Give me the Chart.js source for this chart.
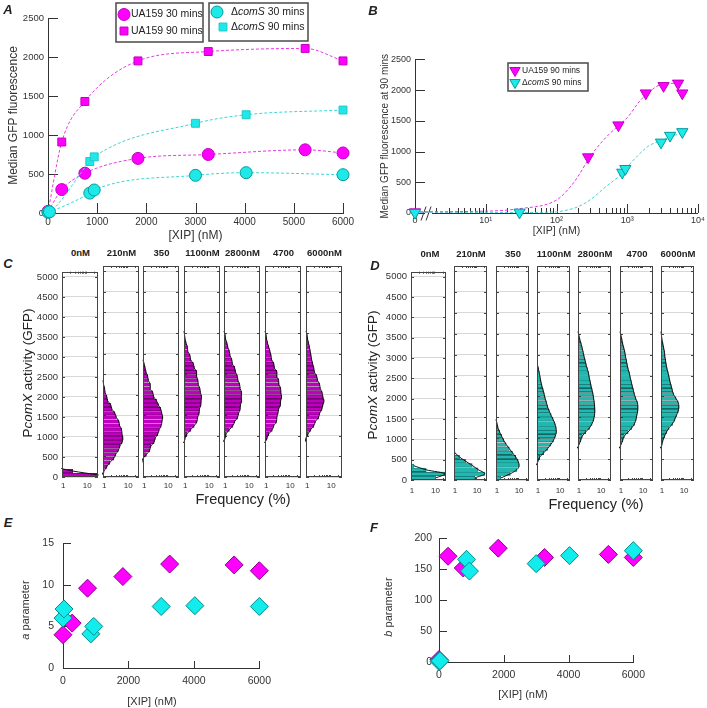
<!DOCTYPE html>
<html lang="en">
<head>
  <meta charset="UTF-8" />
  <title>XIP dose response and PcomX activity</title>
  <script src="https://cdn.jsdelivr.net/npm/chart.js"></script>
  <style>
    body { margin: 0; background: #fff; }
    #fig { position: relative; width: 707px; height: 708px; overflow: hidden; background: #fff; }
    #fig canvas { position: absolute; }
    .lbl { position: absolute; white-space: nowrap; color: #222; line-height: 1;
           font-family: "Liberation Sans", Arial, Helvetica, sans-serif; }
  </style>
</head>
<body>
<div id="fig"></div>

<script>
  // ---------- panel A / B : median GFP fluorescence ----------
  const xipUA   = [0, 280, 750, 1830, 3260, 5230, 6000];   // nM
  const xipComS = [0, 30, 850, 940, 3000, 4030, 6000];
  const ua30    = [20, 300, 510, 700, 750, 810, 770];
  const ua90    = [15, 910, 1430, 1950, 2070, 2110, 1950];
  const comS30  = [10, 15, 255, 295, 483, 517, 491];
  const comS90  = [5, 10, 660, 720, 1150, 1260, 1320];

  // dashed fit curves of panel B
  const fitX      = [1, 10, 30, 100, 150, 200, 300, 500, 800, 1000, 1500, 2000, 3000, 6000];
  const fitUA90   = [20, 30, 70, 210, 400, 590, 920, 1230, 1450, 1550, 1820, 1960, 2090, 2115];
  const fitComS90 = [5, 5, 8, 20, 55, 100, 215, 430, 620, 750, 965, 1090, 1180, 1310];

  // ---------- panel E / F : fitted a and b parameters ----------
  const aUA   = [4.0, 5.4, 9.6, 11.0, 12.5, 12.4, 11.7];
  const aComS = [6.0, 7.1, 4.1, 5.0, 7.4, 7.5, 7.4];
  const bUA   = [4, 171, 152, 184, 169, 174, 169];
  const bComS = [1, 2, 166, 147, 159, 172, 180];

  // ---------- panel C / D : histograms, % of cells per 100-unit GFP bin ----------
  const binWidth = 100;
  const histHeads = ['0nM', '210nM', '350', '1100nM', '2800nM', '4700', '6000nM'];
  const ua_0    = [30, 2.5, 0.6, 0.5, 0.5, 0.5, 0.5];
  const ua_210  = [0.8, 1.0, 1.3, 1.7, 2.5, 3.0, 3.9, 4.5, 5.6, 6.0, 5.5, 5.3, 4.4, 4.1, 3.2, 2.8, 2.1, 1.9, 1.4, 1.3, 1.1, 1.05, 0.95, 0.9];
  const ua_350  = [0.6, 0.6, 0.7, 0.8, 0.9, 1.25, 1.7, 1.9, 2.6, 2.9, 3.7, 4.2, 5.1, 5.5, 5.9, 5.4, 4.9, 3.9, 3.3, 2.5, 2.3, 1.8, 1.8, 1.5, 1.4, 1.2, 1.1, 1.0, 0.9];
  const ua_1100 = [0.5, 0.5, 0.5, 0.5, 0.5, 0.5, 0.5, 0.6, 0.9, 1.0, 1.2, 1.7, 2.4, 3.1, 3.3, 3.8, 3.9, 4.5, 4.6, 4.8, 4.3, 4.1, 3.5, 3.4, 3.0, 3.0, 2.4, 2.2, 1.7, 1.6, 1.3, 1.25, 1.1, 1.0, 0.95, 0.9];
  const ua_2800 = [0.5, 0.5, 0.5, 0.5, 0.5, 0.5, 0.5, 0.5, 0.8, 1.0, 1.1, 1.5, 2.1, 2.5, 3.3, 3.6, 4.2, 4.3, 4.8, 4.7, 4.8, 4.2, 4.0, 3.4, 3.2, 2.7, 2.5, 2.0, 1.9, 1.6, 1.5, 1.3, 1.2, 1.05, 1.0, 0.9];
  const ua_4700 = [0.5, 0.5, 0.5, 0.5, 0.5, 0.5, 0.5, 0.5, 0.9, 1.1, 1.3, 1.8, 2.1, 2.7, 2.8, 3.1, 3.3, 3.9, 4.0, 4.4, 4.1, 4.0, 3.4, 3.3, 2.8, 2.8, 2.2, 2.1, 1.7, 1.6, 1.45, 1.3, 1.15, 1.05, 1.0, 0.9];
  const ua_6000 = [0.5, 0.5, 0.5, 0.5, 0.5, 0.5, 0.5, 0.5, 0.8, 0.9, 1.1, 1.4, 1.9, 2.2, 3.0, 3.3, 4.1, 4.5, 5.0, 4.5, 4.2, 3.5, 3.3, 2.7, 2.5, 2.0, 1.9, 1.7, 1.55, 1.45, 1.35, 1.25, 1.15, 1.05, 1.0, 0.9];

  const comS_0    = [10, 25, 4, 1.2];
  const comS_210  = [8, 22, 11, 6, 3, 1.6, 1.0];
  const comS_350  = [1.5, 4, 8, 10, 9, 7, 5, 3.6, 2.6, 2.0, 1.6, 1.3, 1.1, 1.0, 0.9];
  const comS_1100 = [0.5, 0.5, 0.5, 0.8, 1.0, 1.2, 1.8, 2.7, 3.8, 5.0, 6.0, 6.7, 6.5, 5.8, 4.8, 3.9, 3.2, 2.7, 2.4, 2.1, 1.9, 1.7, 1.5, 1.35, 1.25, 1.15, 1.05, 0.95];
  const comS_2800 = [0.5, 0.5, 0.5, 0.5, 0.5, 0.5, 0.5, 0.8, 1.0, 1.2, 1.4, 2.0, 3.0, 3.9, 4.6, 5.0, 5.2, 5.1, 4.9, 4.6, 4.3, 3.9, 3.5, 3.2, 2.9, 2.7, 2.4, 2.1, 1.9, 1.7, 1.55, 1.4, 1.25, 1.1, 1.0, 0.9];
  const comS_4700 = [0.5, 0.5, 0.5, 0.5, 0.5, 0.5, 0.5, 0.8, 1.0, 1.2, 1.4, 2.1, 3.1, 4.1, 4.8, 5.2, 5.7, 5.8, 5.5, 4.6, 4.0, 3.6, 3.2, 2.9, 2.6, 2.4, 2.1, 1.9, 1.75, 1.6, 1.5, 1.35, 1.2, 1.1, 1.0, 0.9];
  const comS_6000 = [0.5, 0.5, 0.5, 0.5, 0.5, 0.5, 0.5, 0.8, 1.0, 1.1, 1.3, 1.6, 2.1, 3.0, 3.8, 4.5, 5.4, 5.8, 5.4, 4.3, 3.3, 2.9, 2.6, 2.3, 2.1, 1.9, 1.7, 1.55, 1.45, 1.35, 1.3, 1.2, 1.1, 1.0, 0.95, 0.9];

  const histUA   = [ua_0, ua_210, ua_350, ua_1100, ua_2800, ua_4700, ua_6000];
  const histComS = [comS_0, comS_210, comS_350, comS_1100, comS_2800, comS_4700, comS_6000];
  const histTicks = [0, 500, 1000, 1500, 2000, 2500, 3000, 3500, 4000, 4500, 5000];

  // ---------- look ----------
  const fam = '"Liberation Sans", Arial, Helvetica, sans-serif';
  const magenta = '#ff00ff', magentaEdge = '#c000c0', magentaLine = '#e838e8';
  const cyan = '#1fe8e8', cyanEdge = '#009c9c', cyanLine = '#3ad6d6';
  const axisCol = '#333';

  Chart.defaults.font.family = fam;
  Chart.defaults.color = '#333';
  Chart.defaults.animation = false;
  Chart.defaults.plugins.legend.display = false;
  Chart.defaults.plugins.tooltip.enabled = false;

  const fig = document.getElementById('fig');
  const deco = new Map();   // extra drawing per canvas (inward ticks, frames, legends)

  function drawMarker(ctx, ds, x, y, r) {
    r = r || ds.pointRadius;
    ctx.save();
    ctx.fillStyle = ds.pointBackgroundColor;
    ctx.strokeStyle = ds.pointBorderColor;
    ctx.lineWidth = 1;
    ctx.beginPath();
    if (ds.pointStyle === 'circle') {
      ctx.arc(x, y, r, 0, Math.PI * 2);
    } else if (ds.pointStyle === 'rect') {
      const s = r * Math.SQRT1_2;
      ctx.rect(x - s, y - s, 2 * s, 2 * s);
    } else {
      // triangle pointing down
      ctx.moveTo(x, y + r);
      ctx.lineTo(x - r * 0.866, y - r / 2);
      ctx.lineTo(x + r * 0.866, y - r / 2);
      ctx.closePath();
    }
    ctx.fill();
    ctx.stroke();
    ctx.restore();
  }

  function richText(ctx, text, x, y, size) {
    text.split(/(comS)/).forEach(part => {
      if (!part) return;
      ctx.font = (part === 'comS' ? 'italic ' : '') + size + 'px ' + fam;
      ctx.fillText(part, x, y);
      x += ctx.measureText(part).width;
    });
  }

  const decor = {
    id: 'decor',
    beforeDatasetsDraw(chart) {
      const d = deco.get(chart.canvas);
      if (!d) return;
      const {ctx, chartArea: a, scales} = chart;
      ctx.save();
      ctx.strokeStyle = d.tickColor || axisCol;
      ctx.lineWidth = 1;
      ctx.beginPath();
      (d.marks || []).forEach(m => {
        const s = scales[m.axis];
        const vals = m.at || s.ticks.map(t => t.value);
        vals.forEach(v => {
          const p = Math.round(s.getPixelForValue(v)) + 0.5;
          if (m.axis === 'x') {
            const y0 = m.side === 'top' ? a.top : a.bottom;
            ctx.moveTo(p, y0);
            ctx.lineTo(p, y0 + (m.side === 'top' ? m.len : -m.len));
          } else {
            const x0 = m.side === 'right' ? a.right : a.left;
            ctx.moveTo(x0, p);
            ctx.lineTo(x0 + (m.side === 'right' ? -m.len : m.len), p);
          }
        });
      });
      ctx.stroke();
      if (d.breakAt) {
        // bottom axis with a // break between 0 and the log decades
        const p = scales.x.getPixelForValue(d.breakAt);
        const y = Math.round(a.bottom) + 0.5;
        ctx.beginPath();
        ctx.moveTo(a.left, y); ctx.lineTo(p - 5, y);
        ctx.moveTo(p + 5, y); ctx.lineTo(a.right, y);
        ctx.moveTo(p - 6, y + 7); ctx.lineTo(p - 1, y - 7);
        ctx.moveTo(p - 1, y + 7); ctx.lineTo(p + 4, y - 7);
        ctx.stroke();
      }
      ctx.restore();
    },
    afterDatasetsDraw(chart) {
      const d = deco.get(chart.canvas);
      if (!d || !d.frame) return;
      const {ctx, chartArea: a} = chart;
      ctx.save();
      ctx.strokeStyle = d.frame;
      ctx.lineWidth = 1;
      ctx.strokeRect(Math.round(a.left) + 0.5, Math.round(a.top) + 0.5,
                     Math.round(a.right - a.left) - 1, Math.round(a.bottom - a.top) - 1);
      ctx.restore();
    },
    afterDraw(chart) {
      const d = deco.get(chart.canvas);
      if (!d || !d.legend) return;
      const ctx = chart.ctx;
      const ox = chart.canvas.offsetLeft, oy = chart.canvas.offsetTop;
      d.legend.boxes.forEach(b => {
        ctx.save();
        ctx.fillStyle = '#fff';
        ctx.fillRect(b.x - ox, b.y - oy, b.w, b.h);
        ctx.lineWidth = d.legend.lw;
        ctx.strokeStyle = '#4a4a4a';
        ctx.strokeRect(b.x - ox, b.y - oy, b.w, b.h);
        b.items.forEach(it => {
          const ds = chart.data.datasets[it.ds];
          drawMarker(ctx, ds, it.mx - ox, it.my - oy, it.r);
          ctx.fillStyle = '#222';
          ctx.textBaseline = 'middle';
          richText(ctx, ds.label, it.tx - ox, it.my - oy, d.legend.size);
        });
        ctx.restore();
      });
    }
  };
  Chart.register(decor);

  // canvas whose chart area lands on box.l..box.r / box.t..box.b of the figure
  function place(box, config, extra) {
    const w = Math.round(box.r - box.l + box.yW + box.pR);
    const h = Math.round(box.b - box.t + box.pT + box.xH);
    const cv = document.createElement('canvas');
    cv.width = w; cv.height = h;
    cv.style.left = (box.l - box.yW) + 'px';
    cv.style.top = (box.t - box.pT) + 'px';
    cv.style.width = w + 'px';
    cv.style.height = h + 'px';
    fig.appendChild(cv);
    if (extra) deco.set(cv, extra);
    const o = config.options;
    o.responsive = false;
    o.layout = {padding: {left: 0, top: box.pT, right: box.pR, bottom: 0}};
    o.scales.x.afterFit = s => { s.height = box.xH; };
    o.scales.y.afterFit = s => { s.width = box.yW; };
    return new Chart(cv, config);
  }

  function label(html, cx, cy, style, rotate) {
    const d = document.createElement('div');
    d.className = 'lbl';
    d.innerHTML = html;
    d.style.cssText += 'left:' + cx + 'px;top:' + cy + 'px;' + style +
      ';transform:translate(-50%,-50%)' + (rotate ? ' rotate(-90deg)' : '');
    fig.appendChild(d);
  }

  const pts = (xs, ys) => xs.map((x, i) => ({x, y: ys[i]}));
  const plain = v => String(v);

  // ================= A =================
  const lineStyle = {showLine: true, borderWidth: 1, borderDash: [3, 2], cubicInterpolationMode: 'monotone',
                     clip: false, fill: false, pointBorderWidth: 1};
  place({l: 48, t: 18, r: 343, b: 213, yW: 48, pT: 18, pR: 15, xH: 30}, {
    type: 'line',
    data: {datasets: [
      {...lineStyle, label: 'ΔcomS 30 mins', data: pts(xipComS, comS30), borderColor: cyanLine,
       pointStyle: 'circle', pointRadius: 6, pointBackgroundColor: cyan, pointBorderColor: cyanEdge},
      {...lineStyle, label: 'ΔcomS 90 mins', data: pts(xipComS, comS90), borderColor: cyanLine,
       pointStyle: 'rect', pointRadius: 5.6, pointBackgroundColor: cyan, pointBorderColor: '#22c8c8'},
      {...lineStyle, label: 'UA159 30 mins', data: pts(xipUA, ua30), borderColor: magentaLine,
       pointStyle: 'circle', pointRadius: 6, pointBackgroundColor: magenta, pointBorderColor: magentaEdge},
      {...lineStyle, label: 'UA159 90 mins', data: pts(xipUA, ua90), borderColor: magentaLine,
       pointStyle: 'rect', pointRadius: 5.6, pointBackgroundColor: magenta, pointBorderColor: magentaEdge}
    ]},
    options: {
      scales: {
        x: {type: 'linear', min: 0, max: 6000,
            ticks: {stepSize: 1000, padding: 3, font: {size: 10}, callback: plain},
            grid: {display: false, drawTicks: false}, border: {color: axisCol},
            title: {display: true, text: '[XIP] (nM)', font: {size: 12}, padding: {top: 0, bottom: 0}}},
        y: {min: 0, max: 2500,
            ticks: {stepSize: 500, padding: 4, font: {size: 9.5}, callback: plain},
            grid: {display: false, drawTicks: false}, border: {color: axisCol},
            title: {display: true, text: 'Median GFP fluorescence', font: {size: 12}, padding: {top: 6, bottom: 0}}}
      }
    }
  }, {
    marks: [{axis: 'x', side: 'bottom', len: 10}, {axis: 'y', side: 'left', len: 10}],
    legend: {size: 10.5, lw: 1.5, boxes: [
      {x: 116, y: 3, w: 87, h: 39, items: [{ds: 2, mx: 124, my: 14.5, tx: 131}, {ds: 3, mx: 124, my: 31, tx: 131}]},
      {x: 209, y: 3, w: 99, h: 38, items: [{ds: 0, mx: 217, my: 12, tx: 231}, {ds: 1, mx: 223, my: 27, tx: 231}]}
    ]}
  });

  // ================= B =================
  // 0 nM is drawn at the axis origin (1), left of the axis break
  const atOrigin = xs => xs.map(x => (x === 0 ? 1 : x));
  const sup = {1: '¹', 2: '²', 3: '³', 4: '⁴'};
  const minorB = [];
  [1, 10, 100, 1000].forEach(d => { for (let m = 2; m <= 9; m++) minorB.push(d * m); });
  place({l: 415, t: 58, r: 698, b: 213, yW: 40, pT: 8, pR: 9, xH: 26}, {
    type: 'line',
    data: {datasets: [
      {label: 'ΔcomS 90 mins', data: pts(atOrigin(xipComS), comS90), showLine: false, clip: false,
       pointStyle: 'triangle', rotation: 180, pointRadius: 6.5, pointBackgroundColor: cyan, pointBorderColor: cyanEdge,
       pointBorderWidth: 1},
      {label: 'UA159 90 mins', data: pts(atOrigin(xipUA), ua90), showLine: false, clip: false,
       pointStyle: 'triangle', rotation: 180, pointRadius: 6.5, pointBackgroundColor: magenta, pointBorderColor: magentaEdge,
       pointBorderWidth: 1},
      {label: 'UA159 fit', data: pts(fitX, fitUA90), borderColor: magentaLine, borderWidth: 1, borderDash: [3, 2],
       pointRadius: 0, cubicInterpolationMode: 'monotone'},
      {label: 'comS fit', data: pts(fitX, fitComS90), borderColor: cyanLine, borderWidth: 1, borderDash: [3, 2],
       pointRadius: 0, cubicInterpolationMode: 'monotone'}
    ]},
    options: {
      scales: {
        x: {type: 'logarithmic', min: 1, max: 10000,
            ticks: {autoSkip: false, maxRotation: 0, padding: 2, font: {size: 9},
                    callback: v => {
                      if (v === 1) return '0';
                      const e = Math.round(Math.log10(v));
                      return Math.abs(Math.log10(v) - e) < 1e-9 ? '10' + sup[e] : '';
                    }},
            grid: {display: false, drawTicks: false}, border: {display: false},
            title: {display: true, text: '[XIP] (nM)', font: {size: 10.5}, padding: {top: 0, bottom: 2}}},
        y: {min: 0, max: 2500,
            ticks: {stepSize: 500, padding: 4, font: {size: 9}, callback: plain},
            grid: {display: false, drawTicks: false}, border: {color: axisCol},
            title: {display: true, text: 'Median GFP fluorescence at 90 mins', font: {size: 10}, padding: {top: 4, bottom: 0}}}
      }
    }
  }, {
    marks: [{axis: 'y', side: 'left', len: 10},
            {axis: 'x', side: 'bottom', len: 9, at: [10, 100, 1000, 10000]},
            {axis: 'x', side: 'bottom', len: 5, at: minorB}],
    breakAt: 1.48,
    legend: {size: 8.5, lw: 1.5, boxes: [
      {x: 508, y: 63, w: 80, h: 28, items: [{ds: 1, mx: 515, my: 70.5, tx: 522, r: 6}, {ds: 0, mx: 515, my: 82.5, tx: 522, r: 6}]}
    ]}
  });

  // ================= C / D histograms =================
  const logMinor = [2, 3, 4, 5, 6, 7, 8, 9, 20];
  function histogram(left, width, top, bottom, yMax, values, fill, edge, first, xPad) {
    const data = values.map((v, k) => ({x: v, y: (k + 0.5) * binWidth}));
    place({l: left, t: top, r: left + width, b: bottom, yW: first ? 34 : 4, pT: 4, pR: 3, xH: 16}, {
      type: 'bar',
      data: {datasets: [
        {type: 'line', indexAxis: 'y', data, borderColor: '#111', borderWidth: 1, pointRadius: 0,
         cubicInterpolationMode: 'monotone', clip: 1},
        {type: 'bar', data, backgroundColor: fill, borderColor: edge, borderWidth: 0.6, barThickness: 3.5, clip: 0}
      ]},
      options: {
        indexAxis: 'y',
        scales: {
          x: {type: 'logarithmic', min: 0.9, max: 28,
              ticks: {autoSkip: false, maxRotation: 0, padding: xPad, font: {size: 8},
                      callback: v => (v === 1 || v === 10 ? String(v) : '')},
              grid: {display: false, drawTicks: false}, border: {display: false}},
          y: {type: 'linear', min: 0, max: yMax, offset: false,
              afterBuildTicks: s => { s.ticks = histTicks.map(v => ({value: v})); },
              ticks: {display: first, padding: 4, font: {size: 9.5}, callback: plain},
              grid: {color: '#d8d8d8', drawTicks: false, offset: false}, border: {display: false}}
        }
      }
    }, {
      frame: '#444', tickColor: '#444',
      marks: [{axis: 'y', side: 'left', len: 3}, {axis: 'y', side: 'right', len: 3},
              {axis: 'x', side: 'bottom', len: 2, at: logMinor}, {axis: 'x', side: 'top', len: 2, at: logMinor}]
    });
  }

  const headFont = 'font-weight:bold;font-size:9.5px';
  histUA.forEach((vals, i) => {
    const l = 62 + Math.round(i * 40.6);
    histogram(l, 37, 266, 477, 5130, vals, '#c000c0', '#560056', i === 0, 4);
    label(histHeads[i], l + 18.5, 253, headFont);
  });
  histComS.forEach((vals, i) => {
    const l = 411 + Math.round(i * 41.3);
    histogram(l, 38, 266, 480, 5120, vals, '#22b8b0', '#0b4b4b', i === 0, 6);
    label(histHeads[i], l + 19, 254, headFont);
  });

  // ================= E / F =================
  function paramChart(box, yMax, yStep, ua, comS) {
    const dia = {pointStyle: 'rectRot', pointRadius: 9, pointBorderWidth: 1, showLine: false, clip: false};
    place(box, {
      type: 'scatter',
      data: {datasets: [
        {...dia, label: 'ΔcomS', data: pts(xipComS, comS), pointBackgroundColor: '#12ecec', pointBorderColor: '#008c8c'},
        {...dia, label: 'UA159', data: pts(xipUA, ua), pointBackgroundColor: magenta, pointBorderColor: '#8c008c'}
      ]},
      options: {
        scales: {
          x: {type: 'linear', min: 0, max: 6000,
              ticks: {stepSize: 2000, padding: 7, font: {size: 10.5}, callback: plain},
              grid: {display: false, drawTicks: false}, border: {color: axisCol}},
          y: {min: 0, max: yMax,
              ticks: {stepSize: yStep, padding: box.lp, font: {size: 10.5}, callback: plain},
              grid: {display: false, drawTicks: false}, border: {color: axisCol}}
        }
      }
    }, {
      marks: [{axis: 'x', side: 'bottom', len: 7}, {axis: 'y', side: 'left', len: 8}]
    });
  }
  paramChart({l: 63, t: 536, r: 263, b: 668, yW: 40, pT: 8, pR: 15, xH: 30, lp: 9}, 15, 5, aUA, aComS);
  paramChart({l: 439, t: 533, r: 637, b: 662, yW: 40, pT: 8, pR: 15, xH: 30, lp: 7}, 200, 50, bUA, bComS);

  // ================= text labels =================
  const panelFont = 'font-weight:bold;font-style:italic;font-size:13px';
  label('A', 8, 9, panelFont);
  label('B', 373, 10, panelFont);
  label('C', 8, 263, panelFont);
  label('D', 375, 265, panelFont);
  label('E', 8, 522, panelFont);
  label('F', 374, 527, panelFont);

  label('P<i>comX</i> activity (GFP)', 28, 373, 'font-size:13.5px', true);
  label('P<i>comX</i> activity (GFP)', 373, 375, 'font-size:13.5px', true);
  label('Frequency (%)', 243, 499, 'font-size:14.5px');
  label('Frequency (%)', 596, 504, 'font-size:14.5px');

  label('<i>a</i> parameter', 25, 610, 'font-size:11px;color:#333', true);
  label('<i>b</i> parameter', 388, 607, 'font-size:11px;color:#333', true);
  label('[XIP] (nM)', 152, 701, 'font-size:11px;color:#333');
  label('[XIP] (nM)', 523, 694, 'font-size:11px;color:#333');
</script>
</body>
</html>
